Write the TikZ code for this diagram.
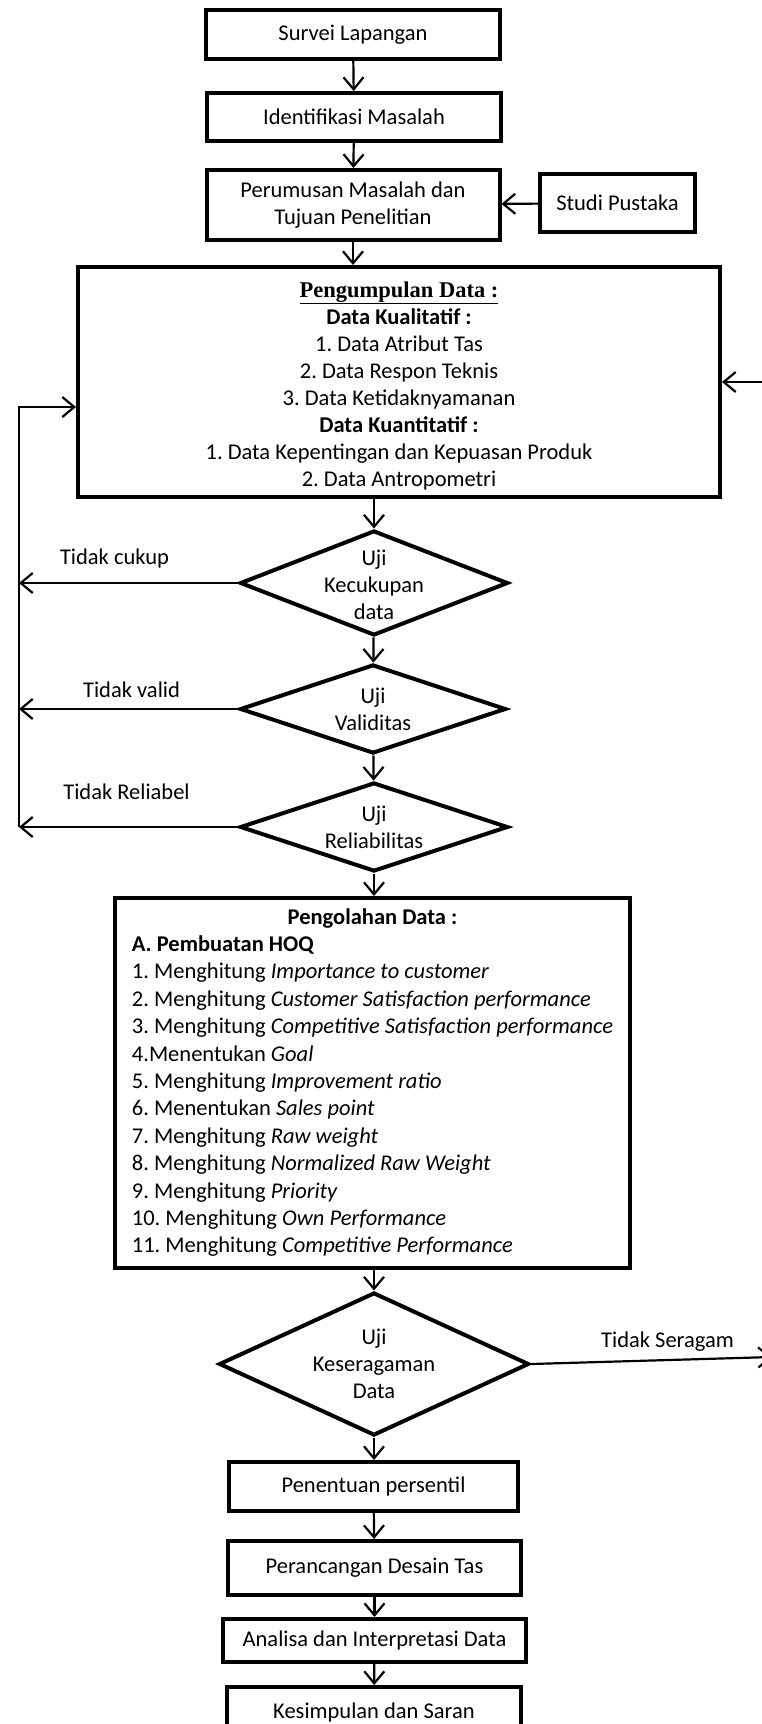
\documentclass[tikz,border=0pt]{standalone}
\usepackage{fontspec}
\setmainfont{Carlito}
\newfontfamily\judulfont{Liberation Serif}
\usetikzlibrary{shapes.geometric,arrows.meta}

\newcommand{\teks}{\fontsize{22.5pt}{27pt}\selectfont}
\frenchspacing

\tikzset{
  kotak/.style={draw, rectangle, line width=4pt, inner sep=0pt},
  proses/.style={kotak, align=center},
  keputusan/.style={draw, diamond, line width=4pt, inner sep=0pt},
  panah/.style={line width=2.2pt, -{Straight Barb[length=12pt,width=20pt]}},
}

\begin{document}
\begin{tikzpicture}[x=1pt, y=-1pt, font=\teks]
  % Page frame
  \useasboundingbox (0,0) rectangle (762,1724);
  \clip (0,0) rectangle (762,1724);

  % Top boxes
  \node[proses, minimum width=294pt, minimum height=49pt] (survei) at (353,34.5) {Survei Lapangan};
  \node[proses, minimum width=294pt, minimum height=48pt] (identifikasi) at (354,117) {Identifikasi Masalah};
  \node[proses, minimum width=293pt, minimum height=70pt] (perumusan) at (353,205) {Perumusan Masalah dan\\Tujuan Penelitian};
  \node[proses, minimum width=155pt, minimum height=58pt] (studi) at (617.5,203) {Studi Pustaka};

  % Data collection
  \node[proses, minimum width=642pt, minimum height=230pt] (pengumpulan) at (399,382) {%
    \rule{0pt}{23pt}\underline{\judulfont\bfseries Pengumpulan Data :}\\
    \textbf{Data Kualitatif :}\\
    1. Data Atribut Tas\\
    2. Data Respon Teknis\\
    3. Data Ketidaknyamanan\\
    \textbf{Data Kuantitatif :}\\
    1. Data Kepentingan dan Kepuasan Produk\\
    2. Data Antropometri};

  % Tests
  \node[keputusan, minimum width=268pt, minimum height=105pt,
    label={[align=center, yshift=-2pt]center:{Uji\\Kecukupan\\data}}] (kecukupan) at (374,583) {};
  \node[keputusan, minimum width=266pt, minimum height=89pt,
    label={[align=center]center:{Uji\\Validitas}}] (validitas) at (373,709) {};
  \node[keputusan, minimum width=268pt, minimum height=89pt,
    label={[align=center]center:{Uji\\Reliabilitas}}] (reliabilitas) at (374,827) {};

  % Data processing
  \node[kotak, minimum width=515pt, minimum height=370pt] (pengolahan) at (372.5,1083) {%
    \renewcommand{\arraystretch}{1.015}%
    \begin{tabular}{@{}l@{}}
    \multicolumn{1}{@{}c@{}}{\textbf{Pengolahan Data :}}\\
    \textbf{A. Pembuatan HOQ}\\
    1. Menghitung \textit{Importance to customer}\\
    2. Menghitung \textit{Customer Satisfaction performance}\\
    3. Menghitung \textit{Competitive Satisfaction performance}\\
    4.Menentukan \textit{Goal}\\
    5. Menghitung \textit{Improvement ratio}\\
    6. Menentukan \textit{Sales point}\\
    7. Menghitung \textit{Raw weight}\\
    8. Menghitung \textit{Normalized Raw Weight}\\
    9. Menghitung \textit{Priority}\\
    10. Menghitung \textit{Own Performance}\\
    11. Menghitung \textit{Competitive Performance}
    \end{tabular}};

  \node[keputusan, minimum width=310pt, minimum height=143pt,
    label={[align=center]center:{Uji\\Keseragaman\\Data}}] (keseragaman) at (374,1364) {};

  % Bottom boxes
  \node[proses, minimum width=289pt, minimum height=49pt] (penentuan) at (373.5,1486.5) {Penentuan persentil};
  \node[proses, minimum width=293pt, minimum height=54pt] (perancangan) at (374.5,1568) {Perancangan Desain Tas};
  \node[proses, minimum width=303pt, minimum height=43pt] (analisa) at (374.5,1640.5) {Analisa dan Interpretasi Data};
  \node[proses, minimum width=294pt, minimum height=50pt] (kesimpulan) at (374,1712) {Kesimpulan dan Saran};

  % Main flow
  \draw[panah] (survei) -- (identifikasi);
  \draw[panah] (identifikasi) -- (perumusan);
  \draw[panah] (studi) -- (perumusan);
  \draw[panah] (perumusan.south) -- (perumusan.south |- pengumpulan.north);
  \draw[panah] (kecukupan.north |- pengumpulan.south) -- (kecukupan.north);
  \draw[panah] (kecukupan) -- (validitas);
  \draw[panah] (validitas) -- (reliabilitas);
  \draw[panah] (reliabilitas.south) -- (reliabilitas.south |- pengolahan.north);
  \draw[panah] (keseragaman.north |- pengolahan.south) -- (keseragaman.north);
  \draw[panah] (keseragaman.south) -- (keseragaman.south |- penentuan.north);
  \draw[panah] (penentuan) -- (perancangan);
  \draw[panah] (perancangan) -- (analisa);
  \draw[panah] (analisa) -- (kesimpulan);

  % Feedback loops
  \coordinate (balikKiri) at (19,407);
  \coordinate (balikKanan) at (772,382);
  \coordinate (keluarKanan) at (772,1357);
  \draw[panah] (kecukupan.west) -- (kecukupan.west -| balikKiri);
  \draw[panah] (validitas.west) -- (validitas.west -| balikKiri);
  \draw[panah] (reliabilitas.west) -- (reliabilitas.west -| balikKiri);
  \draw[panah] (reliabilitas.west -| balikKiri) -- (balikKiri) -- (balikKiri -| pengumpulan.west);
  \draw[panah] (balikKanan) -- (pengumpulan.east);
  \draw[panah] (keseragaman.east) -- (keluarKanan);

  % Branch labels
  \node (lblCukup) at (114.5,558) {Tidak cukup};
  \node (lblValid) at (131.5,690) {Tidak valid};
  \node (lblReliabel) at (126.5,792) {Tidak Reliabel};
  \node (lblSeragam) at (667.5,1342) {Tidak Seragam};
\end{tikzpicture}
\end{document}
